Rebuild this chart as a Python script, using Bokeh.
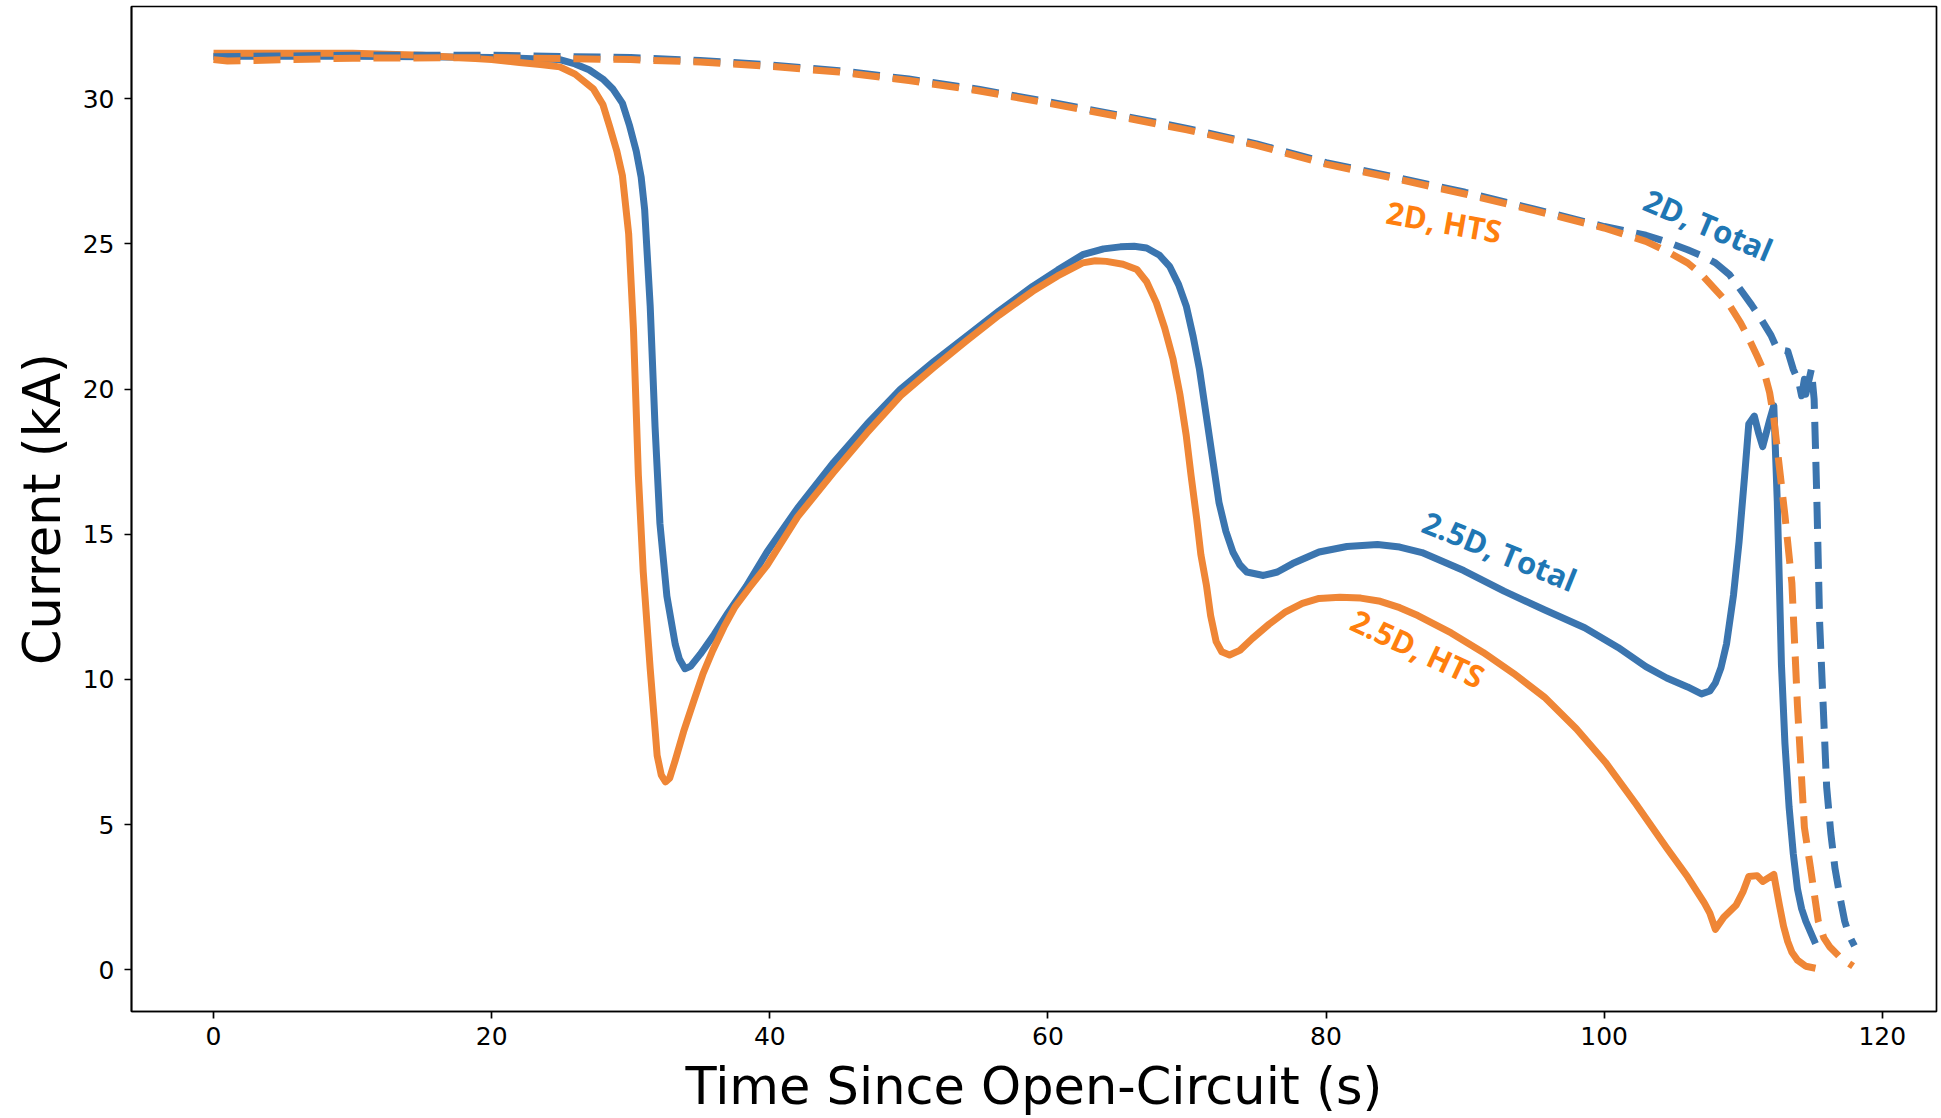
import numpy as np
from bokeh.plotting import figure
from bokeh.models import Range1d, FixedTicker, ColumnDataSource
from bokeh.core.properties import value
from bokeh.embed import file_html
from bokeh.resources import INLINE

# ---------------- data ----------------
# 2.5D, Total (solid blue)
t_25d_total = [0, 10, 15, 20, 22, 24.9, 26, 27, 28.0, 28.7, 29.4, 29.9, 30.4, 30.75, 31.0, 31.4,
               31.75, 32.1, 32.6, 33.2, 33.5, 33.9, 34.3, 35.0, 36.0, 37.0, 38.3, 39.8, 42.0,
               44.6, 47.0, 49.4, 51.8, 54.1, 56.5, 58.9, 60.7, 62.5, 64.0, 65.2, 66.2, 67.1,
               68.0, 68.75, 69.4, 69.95, 70.45, 70.9, 71.6, 72.3, 72.8, 73.3, 73.8, 74.3, 75.5,
               76.5, 77.6, 79.5, 81.5, 83.7, 85.3, 86.9, 89.9, 92.8, 95.7, 98.6, 101.0, 103.0,
               104.5, 106.0, 107.0, 107.6, 108.0, 108.4, 108.8, 109.3, 109.7, 110.1, 110.4,
               110.8, 111.1, 111.4, 111.9, 112.2, 112.45, 112.75, 113.0, 113.3, 113.6, 113.9,
               114.2, 114.5, 115.2]
i_25d_total = [31.47, 31.47, 31.45, 31.42, 31.4, 31.35, 31.2, 31.0, 30.68, 30.35, 29.85, 29.1,
               28.19, 27.3, 26.19, 22.86, 18.7, 15.37, 12.87, 11.21, 10.7, 10.37, 10.45, 10.87,
               11.55, 12.3, 13.2, 14.39, 15.9, 17.48, 18.8, 20.0, 20.95, 21.8, 22.7, 23.54,
               24.1, 24.63, 24.83, 24.9, 24.92, 24.86, 24.62, 24.23, 23.6, 22.86, 21.8, 20.68,
               18.39, 16.1, 15.1, 14.39, 13.95, 13.7, 13.58, 13.7, 13.99, 14.39, 14.58, 14.65,
               14.56, 14.37, 13.75, 13.04, 12.4, 11.78, 11.1, 10.44, 10.05, 9.74, 9.5, 9.6,
               9.88, 10.4, 11.22, 12.9, 14.73, 17.0, 18.8, 19.07, 18.5, 18.02, 18.93, 19.43,
               16.13, 10.5, 7.8, 5.6, 4.0, 2.79, 2.1, 1.67, 0.9]

# 2.5D, HTS (solid orange)
t_25d_hts = [0, 10, 15, 20, 22, 23.5, 24.9, 26.0, 27.3, 28.0, 28.5, 29.0, 29.4, 29.85, 30.2,
             30.55, 30.9, 31.4, 31.9, 32.2, 32.5, 32.8, 33.2, 33.8, 34.5, 35.2, 35.9, 36.7,
             37.5, 38.6, 39.8, 42.0, 44.6, 47.0, 49.4, 51.8, 54.1, 56.5, 58.9, 60.7, 62.5,
             63.4, 64.2, 65.4, 66.4, 67.1, 67.8, 68.4, 69.0, 69.5, 69.95, 70.3, 70.7, 71.0,
             71.4, 71.7, 72.1, 72.5, 73.06, 73.8, 74.7, 75.9, 77.1, 78.3, 79.5, 81.0, 82.5,
             83.9, 85.3, 86.6, 89.0, 91.3, 93.5, 95.7, 98.0, 100.1, 102.3, 104.5, 106.0,
             107.2, 107.6, 108.0, 108.6, 109.5, 110.0, 110.4, 111.0, 111.4, 112.2, 112.6,
             112.9, 113.2, 113.5, 113.9, 114.5, 115.2]
i_25d_hts = [31.57, 31.57, 31.5, 31.35, 31.25, 31.18, 31.1, 30.85, 30.35, 29.8, 29.02, 28.2,
             27.36, 25.36, 22.03, 17.03, 13.7, 10.37, 7.38, 6.7, 6.47, 6.6, 7.21, 8.2, 9.21,
             10.2, 11.0, 11.8, 12.5, 13.2, 13.93, 15.6, 17.14, 18.5, 19.77, 20.75, 21.65,
             22.55, 23.37, 23.9, 24.35, 24.42, 24.4, 24.3, 24.12, 23.7, 22.97, 22.1, 21.03,
             19.8, 18.39, 17.0, 15.53, 14.3, 13.24, 12.2, 11.3, 10.95, 10.84, 11.0, 11.41,
             11.9, 12.33, 12.62, 12.79, 12.83, 12.8, 12.69, 12.47, 12.2, 11.6, 10.93, 10.2,
             9.39, 8.3, 7.14, 5.7, 4.19, 3.2, 2.3, 1.95, 1.39, 1.81, 2.23, 2.7, 3.21, 3.24,
             3.04, 3.28, 2.23, 1.5, 0.97, 0.6, 0.33, 0.12, 0.05]

# 2D, Total (dashed blue)
t_2d_total = [0, 10, 20, 30, 35, 40, 45, 50, 55, 60, 65, 70, 75, 80, 85, 90, 95, 100, 103,
              104.5, 106, 107, 108, 109, 109.8, 110.6, 111.3, 112.0, 112.45, 113.2, 113.6,
              114.0, 114.2, 114.4, 114.5, 114.9, 115.1, 115.2, 115.3, 115.5, 116.0, 116.3,
              116.6, 117.0, 117.3, 117.6, 118.0]
i_2d_total = [31.45, 31.5, 31.5, 31.42, 31.32, 31.17, 30.97, 30.68, 30.33, 29.9, 29.45, 28.98,
              28.45, 27.8, 27.3, 26.78, 26.2, 25.6, 25.3, 25.07, 24.8, 24.6, 24.35, 23.95,
              23.43, 22.9, 22.4, 21.85, 21.37, 21.31, 20.68, 20.23, 19.77, 20.34, 19.82, 20.68,
              19.65, 17.94, 16.1, 11.92, 6.3, 4.7, 3.49, 2.4, 1.67, 1.2, 0.82]

# 2D, HTS (dashed orange)
t_2d_hts = [0, 1, 10, 20, 30, 35, 40, 45, 50, 55, 60, 65, 70, 75, 80, 85, 90, 95, 100, 103,
            104.5, 106, 107, 108, 109, 109.8, 110.4, 111.0, 111.5, 111.9, 112.2, 112.45,
            113.0, 113.5, 113.9, 114.4, 114.8, 115.4, 115.8, 116.2, 117.0, 117.9]
i_2d_hts = [31.35, 31.3, 31.4, 31.42, 31.35, 31.27, 31.12, 30.92, 30.63, 30.28, 29.85, 29.4,
            28.93, 28.4, 27.75, 27.25, 26.72, 26.15, 25.55, 25.09, 24.75, 24.35, 23.95, 23.43,
            22.9, 22.29, 21.75, 21.14, 20.6, 19.88, 19.0, 17.94, 15.65, 13.32, 9.11, 4.9,
            3.63, 1.67, 1.1, 0.8, 0.41, 0.12]

x_ticks = [0, 20, 40, 60, 80, 100, 120]
y_ticks = [0, 5, 10, 15, 20, 25, 30]

label_texts = ["2D, HTS", "2D, Total", "2.5D, Total", "2.5D, HTS"]
label_x = [88.5, 107.5, 92.5, 86.6]
label_y = [25.77, 25.66, 14.43, 11.07]
label_angle_deg = [-10, -23, -22, -25]

BLUE = "#3b75af"
ORANGE = "#ef8636"
BLUE_TXT = "#1f77b4"
ORANGE_TXT = "#ff7f0e"

# ---------------- figure ----------------
p = figure(width=1941, height=1118, output_backend="svg", toolbar_location=None,
           x_range=Range1d(-5.9, 123.9), y_range=Range1d(-1.44, 33.18),
           min_border_left=131, min_border_right=5, min_border_top=6, min_border_bottom=104)

p.background_fill_color = "white"
p.border_fill_color = "white"
p.xgrid.visible = False
p.ygrid.visible = False
p.outline_line_color = "black"
p.outline_line_width = 1.7
p.outline_line_alpha = 1.0

lw = 7
p.line(t_25d_total, i_25d_total, line_color=BLUE, line_width=lw, line_join="round")
p.line(t_25d_hts, i_25d_hts, line_color=ORANGE, line_width=lw, line_join="round")
p.line(t_2d_total, i_2d_total, line_color=BLUE, line_width=lw, line_dash="27 13", line_join="round")
p.line(t_2d_hts, i_2d_hts, line_color=ORANGE, line_width=lw, line_dash="27 13", line_join="round")

src = ColumnDataSource(dict(x=label_x, y=label_y, text=label_texts,
                            angle=list(np.deg2rad(label_angle_deg)),
                            color=[ORANGE_TXT, BLUE_TXT, BLUE_TXT, ORANGE_TXT]))
p.text(x="x", y="y", text="text", angle="angle", text_color="color", source=src,
       text_font=value("Open Sans"), text_font_style="bold", text_font_size="31px",
       text_align="center", text_baseline="middle")

for ax in (p.xaxis[0], p.yaxis[0]):
    ax.axis_line_width = 1.7
    ax.major_tick_line_width = 1.7
    ax.major_tick_out = 7
    ax.major_tick_in = 0
    ax.minor_tick_line_color = None
    ax.major_label_text_font = "DejaVu Sans"
    ax.major_label_text_font_size = "25px"
    ax.major_label_text_color = "black"
    ax.axis_label_text_font = "DejaVu Sans"
    ax.axis_label_text_font_size = "51px"
    ax.axis_label_text_font_style = "normal"
    ax.axis_label_text_color = "black"

p.xaxis.ticker = FixedTicker(ticks=x_ticks)
p.yaxis.ticker = FixedTicker(ticks=y_ticks)
p.xaxis.axis_label = "Time Since Open-Circuit (s)"
p.yaxis.axis_label = "Current (kA)"
p.xaxis.major_label_standoff = 8
p.yaxis.major_label_standoff = 10
p.xaxis.axis_label_standoff = 9
p.yaxis.axis_label_standoff = 8

open("out.html", "w").write(file_html(p, INLINE))
